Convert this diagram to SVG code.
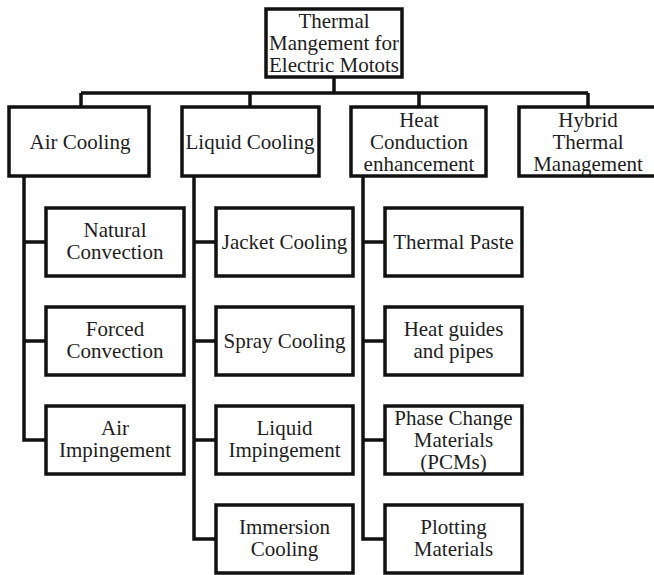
<svg xmlns="http://www.w3.org/2000/svg" width="654" height="575" viewBox="0 0 654 575">
<style>
.box{fill:#fff;stroke:#111;stroke-width:3.5}
.ln{fill:none;stroke:#111;stroke-width:3.5;stroke-linejoin:miter}
.t text{font-size:21px;fill:#1e1e1e;text-anchor:middle}
</style>
<rect width="654" height="575" fill="#fff"/>
<g id="connectors">
<path class="ln" d="M334,77 V93 M81,93 H588 M81,93 V107 M250,93 V107 M419,93 V107 M588,93 V107"/>
<path class="ln" d="M24,176 V440 H46 M24,242 H46 M24,341 H46"/>
<path class="ln" d="M194,176 V539 H216 M194,242 H216 M194,341 H216 M194,440 H216"/>
<path class="ln" d="M363,176 V539 H385 M363,242 H385 M363,341 H385 M363,440 H385"/>
</g>
<g class="t" font-family="'Liberation Serif', 'Times New Roman', 'DejaVu Serif', serif">
<g id="root"><rect class="box" x="266" y="9" width="136" height="68"/>
<text x="334" y="28">Thermal</text><text x="334" y="50">Mangement  for</text><text x="334" y="72">Electric Motots</text></g>
<g id="air"><rect class="box" x="9" y="107" width="140" height="69"/><text x="80" y="149">Air Cooling</text></g>
<g id="liquid"><rect class="box" x="182" y="107" width="137" height="69"/><text x="250" y="149">Liquid Cooling</text></g>
<g id="heat"><rect class="box" x="351" y="107" width="135" height="69"/>
<text x="419" y="127">Heat</text><text x="419" y="149">Conduction</text><text x="419" y="171">enhancement</text></g>
<g id="hybrid"><rect class="box" x="519" y="107" width="139" height="69"/>
<text x="588" y="127">Hybrid</text><text x="588" y="149">Thermal</text><text x="588" y="171">Management</text></g>
<g id="natural"><rect class="box" x="46" y="208" width="138" height="68"/><text x="115" y="237">Natural</text><text x="115" y="259">Convection</text></g>
<g id="forced"><rect class="box" x="46" y="307" width="138" height="68"/><text x="115" y="336">Forced</text><text x="115" y="358">Convection</text></g>
<g id="airimp"><rect class="box" x="46" y="406" width="138" height="68"/><text x="115" y="435">Air</text><text x="115" y="457">Impingement</text></g>
<g id="jacket"><rect class="box" x="216" y="208" width="137" height="68"/><text x="284.5" y="249">Jacket Cooling</text></g>
<g id="spray"><rect class="box" x="216" y="307" width="137" height="68"/><text x="284.5" y="348">Spray Cooling</text></g>
<g id="liqimp"><rect class="box" x="216" y="406" width="137" height="68"/><text x="284.5" y="435">Liquid</text><text x="284.5" y="457">Impingement</text></g>
<g id="immersion"><rect class="box" x="216" y="505" width="137" height="68"/><text x="284.5" y="534">Immersion</text><text x="284.5" y="556">Cooling</text></g>
<g id="paste"><rect class="box" x="385" y="208" width="137" height="68"/><text x="453.5" y="249">Thermal Paste</text></g>
<g id="guides"><rect class="box" x="385" y="307" width="137" height="68"/><text x="453.5" y="336">Heat guides</text><text x="453.5" y="358">and pipes</text></g>
<g id="pcm"><rect class="box" x="385" y="406" width="137" height="68"/><text x="453.5" y="425">Phase Change</text><text x="453.5" y="447">Materials</text><text x="453.5" y="469">(PCMs)</text></g>
<g id="plotting"><rect class="box" x="385" y="505" width="137" height="68"/><text x="453.5" y="534">Plotting</text><text x="453.5" y="556">Materials</text></g>
</g>
</svg>
